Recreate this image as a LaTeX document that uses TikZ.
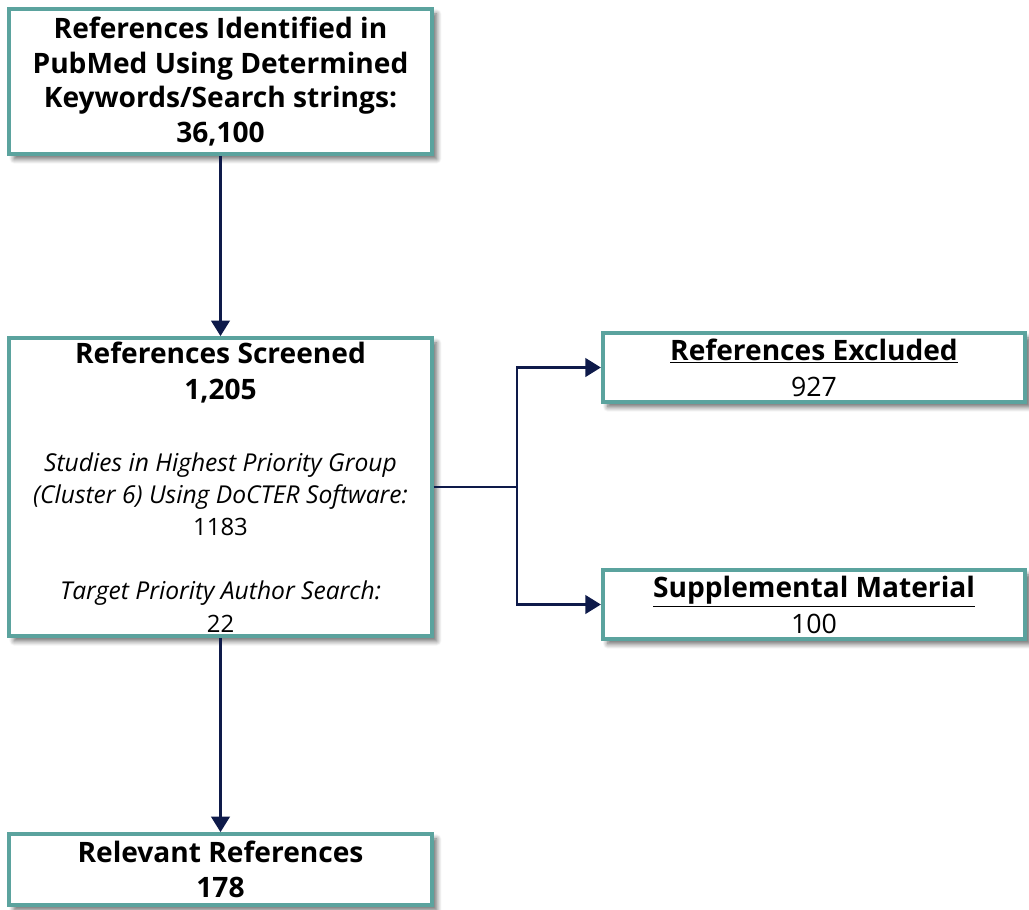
\documentclass[tikz,border=0pt]{standalone}
\usepackage{fontspec}
\setmainfont{Open Sans}
\usetikzlibrary{arrows.meta, positioning, shadows.blur}
\definecolor{prismateal}{HTML}{5BA39E}
\definecolor{prismanavy}{HTML}{0E1A4A}

\begin{document}
\begin{tikzpicture}[x=0.025cm, y=-0.025cm,
  box/.style={draw=prismateal, line width=2.6pt, fill=white,
    blur shadow={shadow xshift=3.5pt, shadow yshift=-3.5pt, shadow blur steps=8, shadow blur radius=3.5pt, shadow opacity=60},
    minimum width=10.56cm, align=center, inner sep=0pt},
  arrow/.style={-{Triangle[length=11pt, width=13pt]}, line width=2.1pt, draw=prismanavy},
  link/.style={line width=2.1pt, draw=prismanavy}]
  \useasboundingbox (0,0) rectangle (1029,909);
  \node[box, minimum height=3.625cm, font=\fontsize{20}{24.8}\selectfont\bfseries] (ident) at (220.5,81.5)
    {References Identified in\\PubMed Using Determined\\Keywords/Search strings:\\36,100};
  \node[box, minimum height=7.45cm, font=\fontsize{17.5}{23}\selectfont] (screened) at (220.5,487)
    {{\fontsize{20}{23}\selectfont\bfseries References Screened}\\[2.6pt]
     {\fontsize{20}{23}\selectfont\bfseries 1,205}\\[28pt]
     \textit{Studies in Highest Priority Group}\\
     \textit{(Cluster 6) Using DoCTER Software:}\\
     {\fontsize{17}{23}\selectfont 1183}\\[22.5pt]
     \textit{Target Priority Author Search:}\\
     {\fontsize{17}{23}\selectfont 22}};
  \node[box, minimum height=1.725cm, font=\fontsize{19}{25.6}\selectfont] (excl) at (814,367.5)
    {{\fontsize{20}{25.6}\selectfont\bfseries\underline{References Excluded}}\\927};
  \node[box, minimum height=1.725cm, font=\fontsize{19}{25.6}\selectfont] (supp) at (814,604.5)
    {{\fontsize{20}{25.6}\selectfont\bfseries\underline{Supplemental Material}}\\100};
  \node[box, minimum height=1.775cm, font=\fontsize{20}{25}\selectfont\bfseries] (relevant) at (220.5,869.5)
    {Relevant References\\178};
  \coordinate (split) at (517,487);
  \draw[arrow] (ident) -- (screened);
  \draw[arrow] (screened) -- (relevant);
  \draw[link] (screened.east) -- (split);
  \draw[arrow] (split) |- (excl.west);
  \draw[arrow] (split) |- (supp.west);
\end{tikzpicture}
\end{document}
